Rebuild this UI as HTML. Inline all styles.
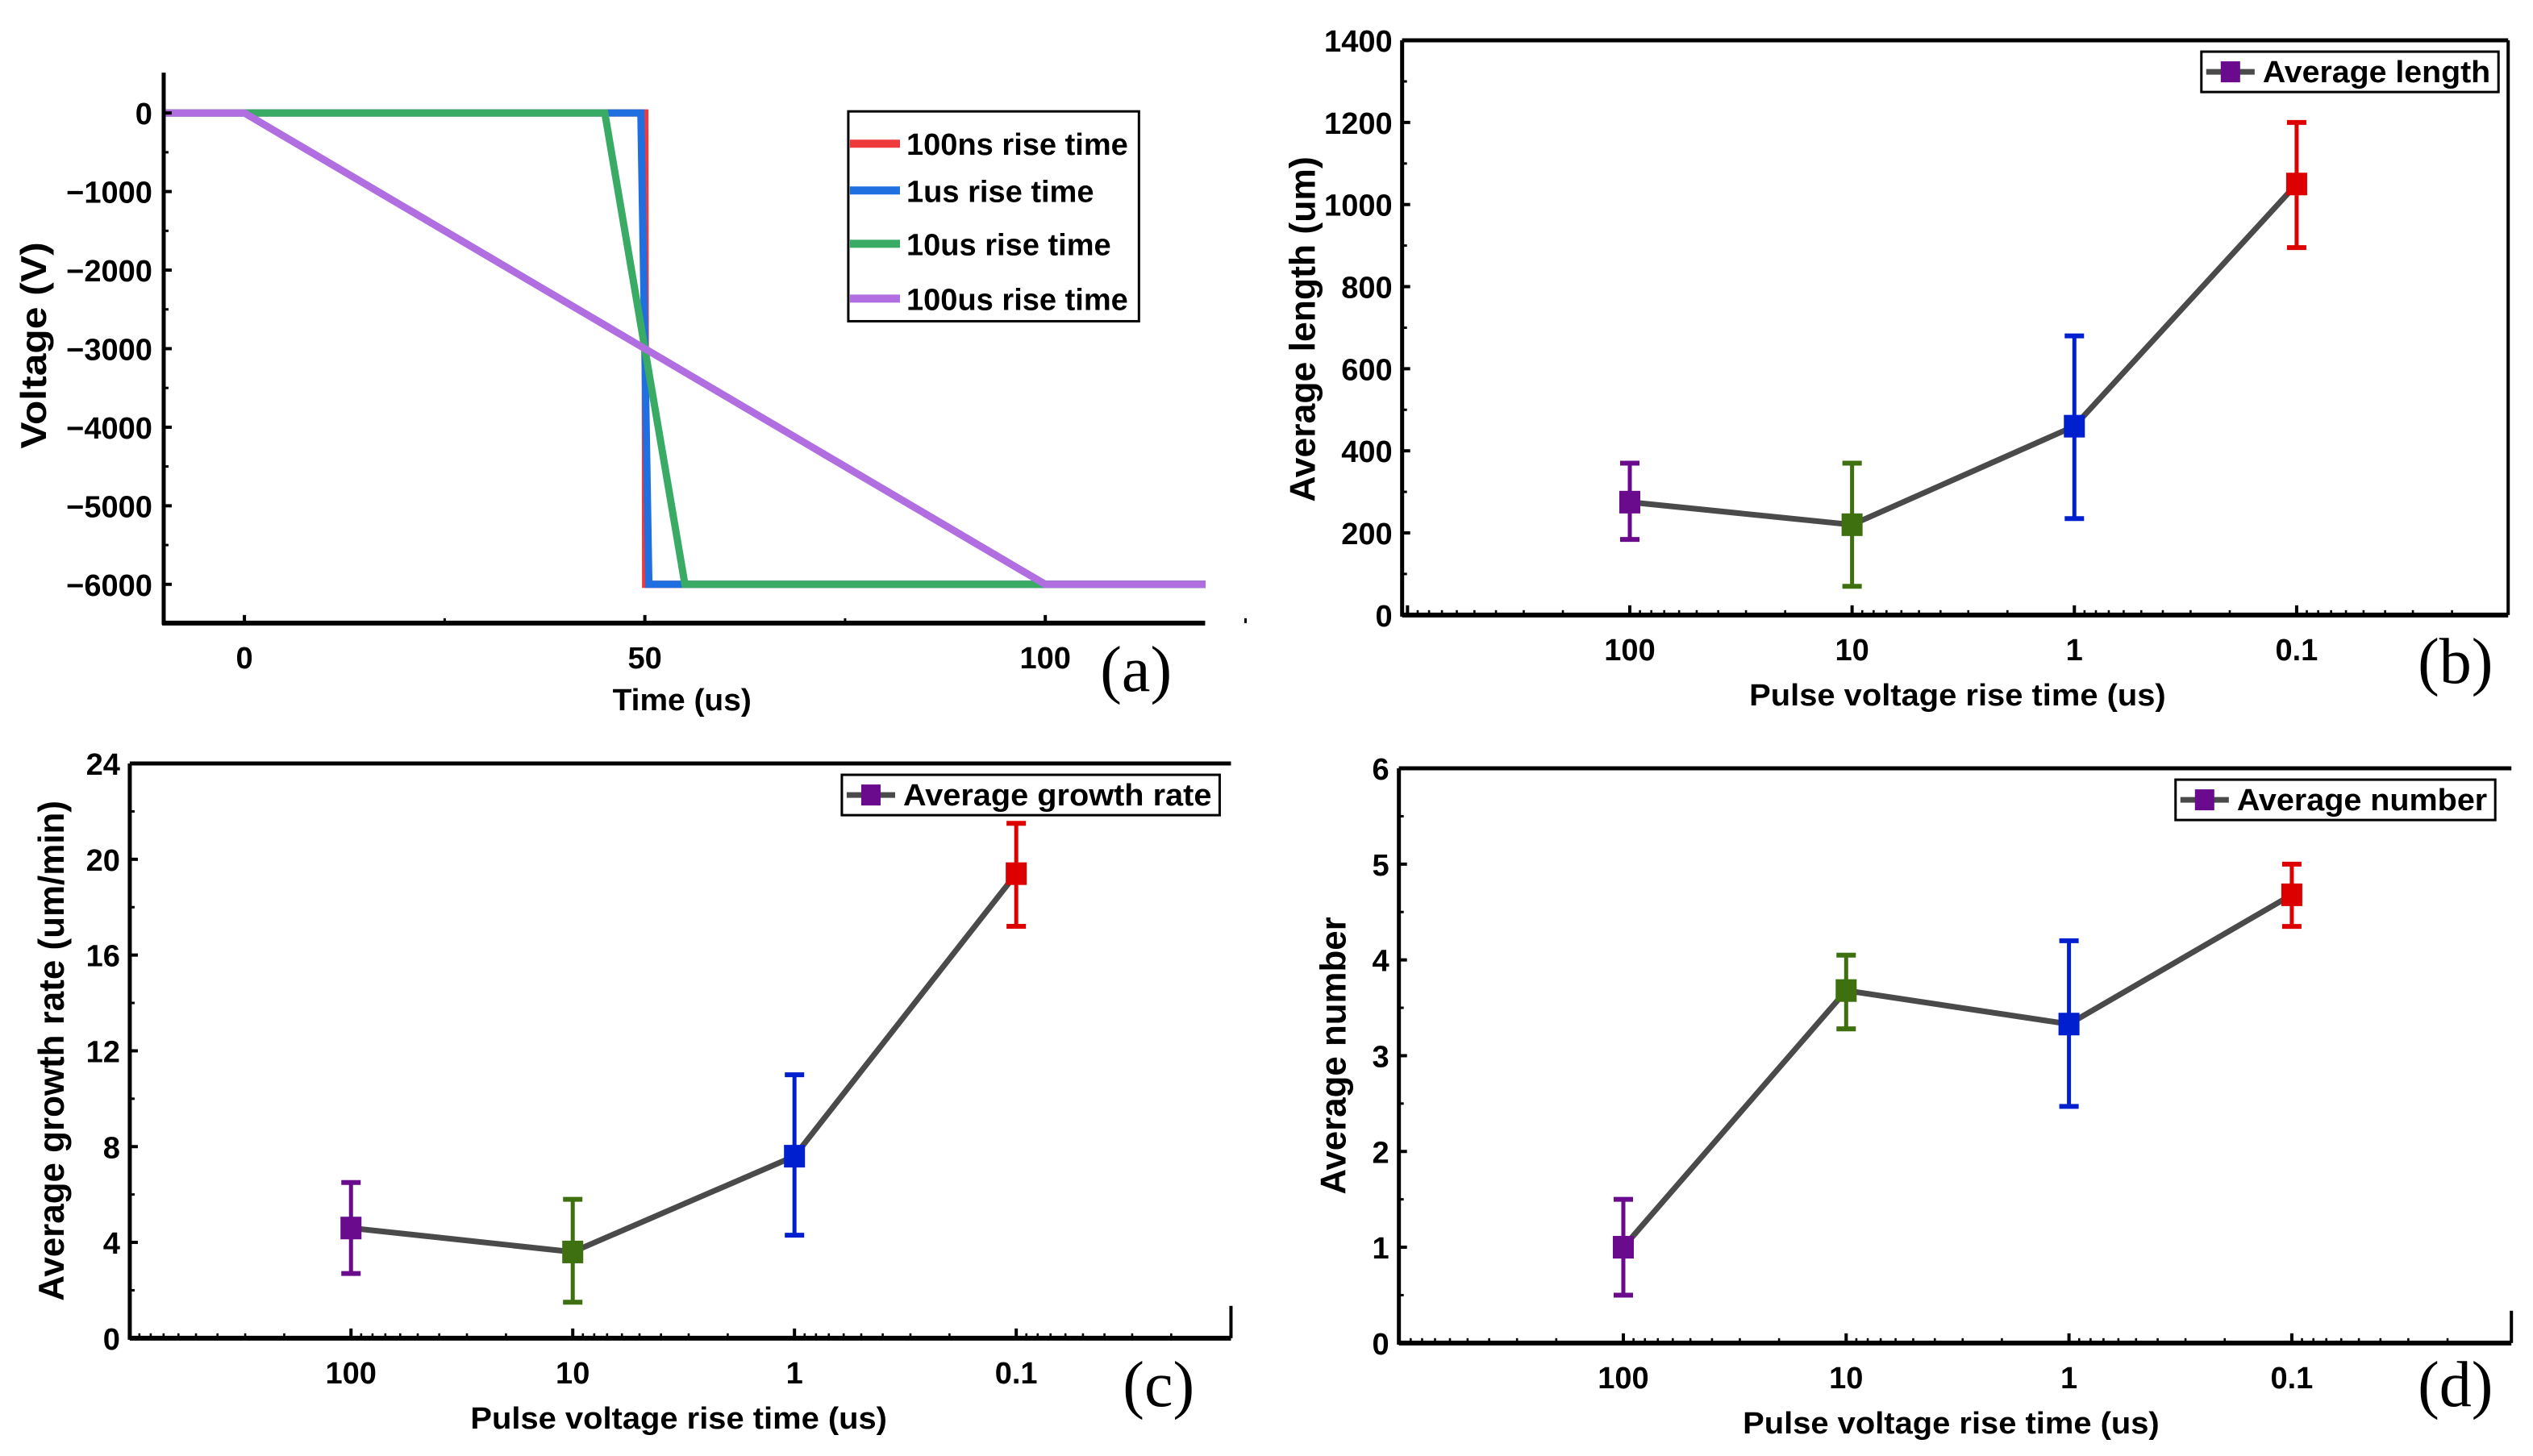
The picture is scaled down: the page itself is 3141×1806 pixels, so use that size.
<!DOCTYPE html>
<html><head><meta charset="utf-8"><style>
html,body{margin:0;padding:0;background:#fff}
svg{display:block}
text{font-family:"Liberation Sans Narrow","Liberation Sans",sans-serif;fill:#000}
.tk{font-size:19px;font-weight:bold}
.ti{font-size:19px;font-weight:bold}
.tt{font-family:"Liberation Sans",sans-serif;font-size:22px;font-weight:bold}
.lab{font-family:"Liberation Serif",serif;font-size:40px}
</style></head><body>
<svg id="fig" width="3141" height="1806" viewBox="0 0 1568 902"></svg>
<script>
// Panel (a) data
const aTimes100ns=[-10,50,50.1,120], aV100ns=[0,0,-6000,-6000];
const aTimes1us=[-10,49.5,50.5,120], aV1us=[0,0,-6000,-6000];
const aTimes10us=[-10,45,55,120], aV10us=[0,0,-6000,-6000];
const aTimes100us=[-10,0,100,120], aV100us=[0,0,-6000,-6000];
const aXTicks=[0,50,100];
const aYTicks=[0,-1000,-2000,-3000,-4000,-5000,-6000];
const aLegend=["100ns rise time","1us rise time","10us rise time","100us rise time"];
// Category panels
const cats=[100,10,1,0.1];
const catLabels=["100","10","1","0.1"];
const bVals=[275,220,460,1050], bLo=[184,70,235,895], bHi=[370,370,680,1200];
const bTicks=[0,200,400,600,800,1000,1200,1400];
const cVals=[4.6,3.6,7.6,19.4], cLo=[2.7,1.5,4.3,17.2], cHi=[6.5,5.8,11.0,21.5];
const cTicks=[0,4,8,12,16,20,24];
const dVals=[1.0,3.68,3.33,4.68], dLo=[0.5,3.28,2.47,4.35], dHi=[1.5,4.05,4.2,5.0];
const dTicks=[0,1,2,3,4,5,6];
const ptColors=["#6a0a8c","#3f7010","#0020d0","#dd0000"];

const NS="http://www.w3.org/2000/svg";
const svg=document.getElementById('fig');
function el(tag,attrs,parent,txt){const e=document.createElementNS(NS,tag);for(const k in attrs)e.setAttribute(k,attrs[k]);if(txt!==undefined)e.textContent=txt;(parent||svg).appendChild(e);return e;}

// ---- Panel (a)
const ga=el('g',{});


const ax=t=>151+(t-0)*(647-151)/100;
const ay=v=>70+(-v)*(362-70)/6000;
const series=[[aTimes100ns,aV100ns,"#ee3a3a"],[aTimes1us,aV1us,"#1f6fe0"],[aTimes10us,aV10us,"#3aab64"],[aTimes100us,aV100us,"#b06ee0"]];
const snames=['line-100ns','line-1us','line-10us','line-100us'];
series.forEach((s,i)=>{
  const p=el('polyline',{points:s[0].map((t,j)=>ax(t)+','+ay(s[1][j])).join(' '),fill:'none',stroke:s[2],'stroke-width':4.5},ga);
  
  
});
el('line',{x1:101,y1:45,x2:101,y2:387,stroke:'#000','stroke-width':2.5},ga);
el('line',{x1:100,y1:386,x2:746,y2:386,stroke:'#000','stroke-width':3},ga);
aYTicks.forEach(v=>{el('line',{x1:101,y1:ay(v),x2:106,y2:ay(v),stroke:'#000','stroke-width':2},ga);
  const t=el('text',{x:94,y:ay(v)+7,'text-anchor':'end',class:'tk'},ga,v===0?'0':'\u2212'+(-v));
  
  el('line',{x1:101,y1:ay(v-500),x2:104,y2:ay(v-500),stroke:'#000','stroke-width':1.5},ga);});
aXTicks.forEach(v=>{el('line',{x1:ax(v),y1:386,x2:ax(v),y2:381,stroke:'#000','stroke-width':2},ga);
  const t=el('text',{x:ax(v),y:414,'text-anchor':'middle',class:'tk'},ga,v);
  
  el('line',{x1:ax(v+25),y1:386,x2:ax(v+25),y2:383,stroke:'#000','stroke-width':1.5},ga);});
let t=el('text',{x:422,y:440,'text-anchor':'middle',class:'ti',textLength:86,lengthAdjust:'spacingAndGlyphs'},ga,'Time (us)');

t=el('text',{transform:'translate(28,214) rotate(-90)','text-anchor':'middle',class:'tt',textLength:128,lengthAdjust:'spacingAndGlyphs'},ga,'Voltage (V)');

const lg=el('g',{},ga);

el('rect',{x:525,y:69,width:180,height:130,fill:'#fff',stroke:'#000','stroke-width':1.5},lg);
[89,118,151,185].forEach((y,i)=>{el('line',{x1:526,y1:y,x2:557,y2:y,stroke:series[i][2],'stroke-width':5},lg);
  const e=el('text',{x:561,y:y+7,class:'ti'},lg,aLegend[i]);
  });
t=el('text',{x:681,y:428,class:'lab'},ga,'(a)');


// ---- Category panels
function catPanel(o){
  const g=el('g',{});
  
  
  const dec=(o.xr[1]-o.xr[0])/3;
  const xs=v=>o.xr[0]+(2-Math.log10(v))*dec;
  const ys=v=>o.yb+(o.yt-o.yb)*(v-o.ticks[0])/(o.ticks[o.ticks.length-1]-o.ticks[0]);
  el('line',{x1:o.L,y1:o.yt,x2:o.L,y2:o.yb+1,stroke:'#000','stroke-width':2.5},g);
  el('line',{x1:o.L,y1:o.yb,x2:o.R,y2:o.yb,stroke:'#000','stroke-width':3},g);
  el('line',{x1:o.L,y1:o.yt,x2:o.R,y2:o.yt,stroke:'#000','stroke-width':2.5},g);
  el('line',{x1:o.R,y1:o.rightFull?o.yt:o.yb-20,x2:o.R,y2:o.yb,stroke:'#000','stroke-width':2},g);
  o.ticks.forEach((v,i)=>{el('line',{x1:o.L,y1:ys(v),x2:o.L+5,y2:ys(v),stroke:'#000','stroke-width':2},g);
    const e=el('text',{x:o.L-6,y:ys(v)+7,'text-anchor':'end',class:'tk'},g,v);
    
    if(i<o.ticks.length-1){const m=(v+o.ticks[i+1])/2;el('line',{x1:o.L,y1:ys(m),x2:o.L+3,y2:ys(m),stroke:'#000','stroke-width':1.5},g);}});
  for(let d=-2;d<=3;d++){for(let k=1;k<10;k++){const v=k*Math.pow(10,d);const x=xs(v);
    if(x<o.L+3||x>o.R-3)continue;
    el('line',{x1:x,y1:o.yb,x2:x,y2:o.yb-(k===1?6:3),stroke:'#000','stroke-width':k===1?2:1.3},g);}}
  cats.forEach((c,i)=>{const e=el('text',{x:xs(c),y:o.yb+28,'text-anchor':'middle',class:'tk'},g,catLabels[i]);
    });
  const ln=el('polyline',{points:cats.map((c,i)=>xs(c)+','+ys(o.vals[i])).join(' '),fill:'none',stroke:'#4a4a4a','stroke-width':3.5},g);
  
  cats.forEach((c,i)=>{const x=xs(c),col=ptColors[i];
    const eb=el('g',{},g);
    
    el('line',{x1:x,y1:ys(o.lo[i]),x2:x,y2:ys(o.hi[i]),stroke:col,'stroke-width':2.5},eb);
    el('line',{x1:x-6,y1:ys(o.lo[i]),x2:x+6,y2:ys(o.lo[i]),stroke:col,'stroke-width':3},eb);
    el('line',{x1:x-6,y1:ys(o.hi[i]),x2:x+6,y2:ys(o.hi[i]),stroke:col,'stroke-width':3},eb);
    const r=el('rect',{x:x-6.5,y:ys(o.vals[i])-7,width:13,height:14,fill:col},g);
    });
  let e=el('text',{x:o.xtx,y:o.yb+56,'text-anchor':'middle',class:'ti',textLength:258,lengthAdjust:'spacingAndGlyphs'},g,'Pulse voltage rise time (us)');
  
  e=el('text',{transform:`translate(${o.ytx},${o.ytc}) rotate(-90)`,'text-anchor':'middle',class:'tt',textLength:o.ytl,lengthAdjust:'spacingAndGlyphs'},g,o.ytitle);
  
  const lgg=el('g',{},g);
  
  el('rect',{x:o.lg[0],y:o.lg[1],width:o.lg[2],height:25,fill:'#fff',stroke:'#000','stroke-width':1.5},lgg);
  el('line',{x1:o.lg[0]+3,y1:o.lg[1]+12.5,x2:o.lg[0]+33,y2:o.lg[1]+12.5,stroke:'#4a4a4a','stroke-width':3.5},lgg);
  el('rect',{x:o.lg[0]+12,y:o.lg[1]+6,width:12,height:13,fill:'#6a0a8c'},lgg);
  e=el('text',{x:o.lg[0]+38,y:o.lg[1]+19,class:'ti',textLength:o.lg[2]-43,lengthAdjust:'spacingAndGlyphs'},lgg,o.legend);
  
  e=el('text',{x:o.lab[0],y:o.lab[1],class:'lab'},g,o.label);
  
}
catPanel({name:'panel-b',L:868,R:1553,yt:25,yb:381,xr:[1009,1422],ticks:bTicks,vals:bVals,lo:bLo,hi:bHi,rightFull:true,
  xtx:1212,ytx:814,ytc:204,ytl:214,ytitle:'Average length (um)',lg:[1363,32,184],legend:'Average length',label:'(b)',lab:[1497,423]});
catPanel({name:'panel-c',L:80,R:762,yt:473,yb:829,xr:[217,629],ticks:cTicks,vals:cVals,lo:cLo,hi:cHi,
  xtx:420,ytx:39,ytc:651,ytl:310,ytitle:'Average growth rate (um/min)',lg:[521,480,234],legend:'Average growth rate',label:'(c)',lab:[695,871]});
catPanel({name:'panel-d',L:866,R:1555,yt:476,yb:832,xr:[1005,1419],ticks:dTicks,vals:dVals,lo:dLo,hi:dHi,
  xtx:1208,ytx:833,ytc:654,ytl:172,ytitle:'Average number',lg:[1347,483,198],legend:'Average number',label:'(d)',lab:[1497,871]});
</script>
</body></html>
